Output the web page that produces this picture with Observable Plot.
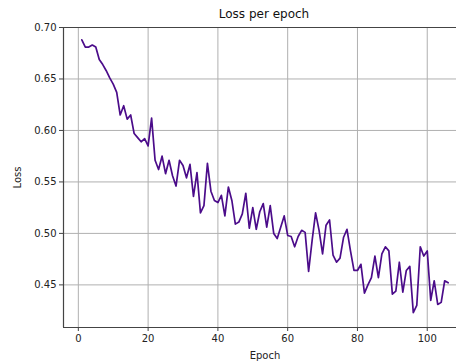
<!DOCTYPE html>
<html>
<head>
<meta charset="utf-8">
<script src="https://cdn.jsdelivr.net/npm/d3@7"></script>
<script src="https://cdn.jsdelivr.net/npm/@observablehq/plot@0.6"></script>
<style>
  html, body { margin: 0; padding: 0; background: white; }
  #wrap { position: relative; width: 456px; height: 362px; overflow: hidden; }
  #title { position: absolute; left: 0; width: 528px; top: 8px; text-align: center;
           font-family: "DejaVu Sans", sans-serif; font-size: 12px; color: #111; line-height: 1; }
</style>
</head>
<body>
<div id="wrap"><div id="title">Loss per epoch</div></div>
<script>
const title = "Loss per epoch";
const xLabel = "Epoch";
const yLabel = "Loss";
const xTicks = [0, 20, 40, 60, 80, 100];
const yTicks = [0.45, 0.50, 0.55, 0.60, 0.65, 0.70];
const loss = [
  0.688, 0.681, 0.681, 0.683, 0.681, 0.669, 0.664, 0.658, 0.651, 0.645,
  0.637, 0.615, 0.624, 0.611, 0.615, 0.597, 0.593, 0.589, 0.592, 0.585,
  0.612, 0.571, 0.562, 0.575, 0.558, 0.571, 0.556, 0.546, 0.571, 0.566,
  0.554, 0.567, 0.536, 0.559, 0.520, 0.527, 0.568, 0.541, 0.532, 0.530,
  0.537, 0.517, 0.545, 0.532, 0.509, 0.511, 0.519, 0.539, 0.505, 0.525,
  0.504, 0.521, 0.529, 0.506, 0.527, 0.500, 0.495, 0.506, 0.517, 0.498,
  0.497, 0.487, 0.497, 0.503, 0.501, 0.463, 0.493, 0.520, 0.503, 0.480,
  0.508, 0.513, 0.479, 0.472, 0.476, 0.496, 0.504, 0.483, 0.464, 0.464,
  0.470, 0.442, 0.450, 0.457, 0.478, 0.457, 0.480, 0.487, 0.483, 0.441,
  0.444, 0.472, 0.443, 0.464, 0.468, 0.423, 0.430, 0.487, 0.478, 0.483,
  0.435, 0.454, 0.431, 0.433, 0.454, 0.452
];
const data = loss.map((v, i) => ({epoch: i + 1, loss: v}));

const xDomain = [-4.25, 111.25];
const yDomain = [0.4086, 0.70];
const spine = "#444";
const grid = "#b0b0b0";

document.getElementById("title").textContent = title;

const chart = Plot.plot({
  width: 456,
  height: 362,
  marginLeft: 63,
  marginRight: -10,
  marginTop: 27,
  marginBottom: 35,
  style: {fontFamily: "DejaVu Sans, sans-serif", fontSize: "10px", color: "#222", background: "white", overflow: "hidden"},
  x: {domain: xDomain},
  y: {domain: yDomain},
  marks: [
    Plot.gridX(xTicks, {stroke: grid, strokeOpacity: 1, strokeWidth: 1}),
    Plot.gridY(yTicks, {stroke: grid, strokeOpacity: 1, strokeWidth: 1}),
    Plot.axisX(xTicks, {tickSize: 4, tickPadding: 3, stroke: spine, label: xLabel, labelAnchor: "center", labelArrow: false, labelOffset: 31.5, fontSize: 10}),
    Plot.axisY(yTicks, {tickSize: 4, tickPadding: 3, stroke: spine, tickFormat: d3.format(".2f"), label: yLabel, labelAnchor: "center", labelArrow: false, labelOffset: 50}),
    Plot.line(data, {x: "epoch", y: "loss", stroke: "#4b0c8a", strokeWidth: 1.7}),
    Plot.ruleX([xDomain[0]], {stroke: spine, strokeWidth: 1.2}),
    Plot.ruleY([yDomain[0], yDomain[1]], {stroke: spine, strokeWidth: 1.2})
  ]
});
document.getElementById("wrap").appendChild(chart);
</script>
</body>
</html>
